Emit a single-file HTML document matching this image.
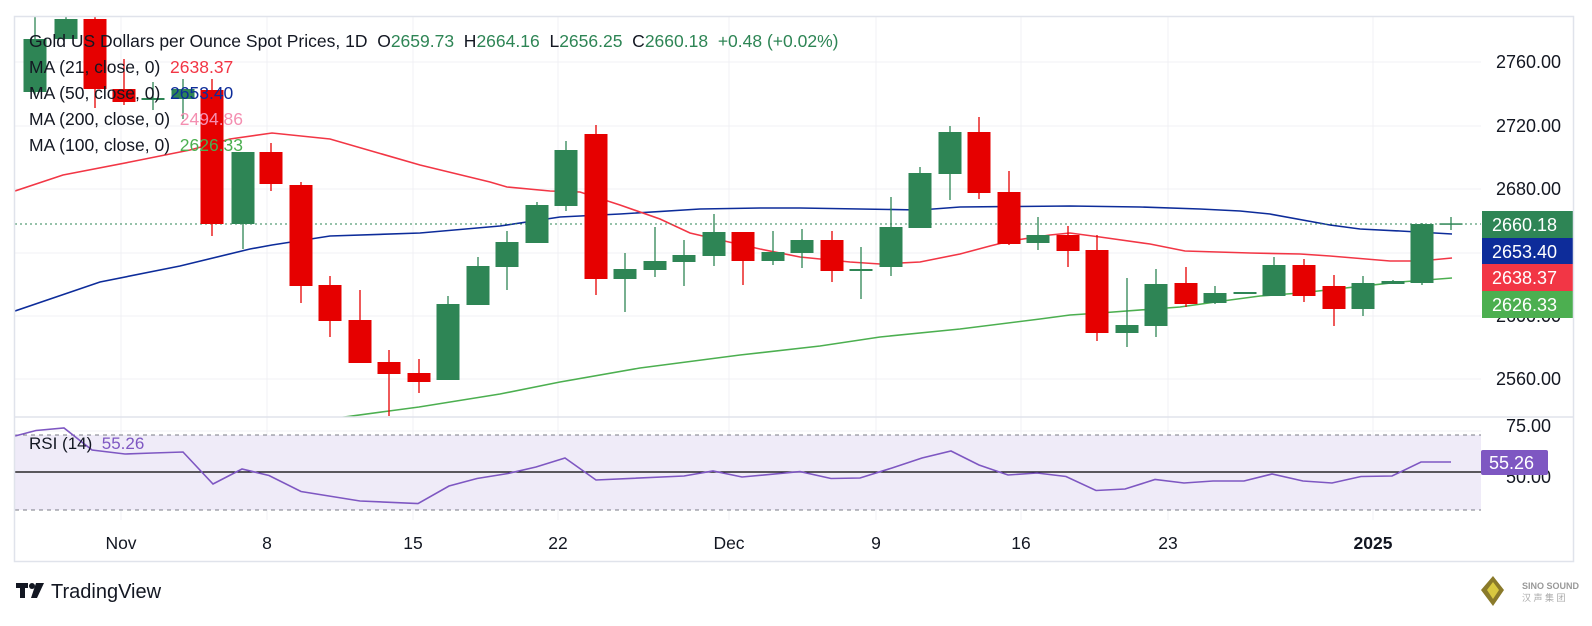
<!DOCTYPE html>
<html><head><meta charset="utf-8"><style>
html,body{margin:0;padding:0;background:#fff;width:1592px;height:626px;overflow:hidden}
svg{display:block}
text{font-family:"Liberation Sans",sans-serif;white-space:pre}
</style></head><body>
<svg width="1592" height="626" viewBox="0 0 1592 626" xmlns="http://www.w3.org/2000/svg" xml:space="preserve">
<rect width="1592" height="626" fill="#fff"/>
<defs><clipPath id="mp"><rect x="15" y="17" width="1466" height="400"/></clipPath></defs>
<g stroke="#f0f1f4" stroke-width="1">
<line x1="15" x2="1481" y1="62" y2="62"/><line x1="15" x2="1481" y1="126" y2="126"/><line x1="15" x2="1481" y1="189" y2="189"/><line x1="15" x2="1481" y1="253" y2="253"/><line x1="15" x2="1481" y1="316" y2="316"/><line x1="15" x2="1481" y1="379" y2="379"/>
<line x1="15" x2="1481" y1="431" y2="431"/>
<line x1="121" x2="121" y1="17" y2="520"/><line x1="267" x2="267" y1="17" y2="520"/><line x1="413" x2="413" y1="17" y2="520"/><line x1="558" x2="558" y1="17" y2="520"/><line x1="729" x2="729" y1="17" y2="520"/><line x1="876" x2="876" y1="17" y2="520"/><line x1="1021" x2="1021" y1="17" y2="520"/><line x1="1168" x2="1168" y1="17" y2="520"/><line x1="1373" x2="1373" y1="17" y2="520"/>
</g>
<g clip-path="url(#mp)" fill="none" stroke-width="1.6">
<polyline stroke="#4caf50" points="300,423 389,411 419,407 500,394 560,382 640,368 740,355 820,346 880,337 960,329 1040,319 1070,315 1100,313 1180,307 1230,300 1260,296 1300,293 1400,282 1452,278"/>
<polyline stroke="#0d2c9a" points="15,311 100,282 180,266 250,249 272,245 330,236 420,233 500,226 560,217 620,214 700,209 760,208 800,208 860,209 920,210 960,207 1070,206 1140,207 1200,209 1240,211 1270,214 1330,225 1360,229 1400,231 1452,234"/>
<polyline stroke="#f23645" points="15,191 63,175 130,162 190,150 230,139 272,133 330,139 420,165 490,182 507,187 550,191 580,192 620,205 660,219 690,233 720,240 760,249 800,257 850,262 880,264 920,262 960,254 990,246 1010,241 1050,235 1070,233 1100,237 1150,244 1185,251 1250,253 1300,254 1330,256 1390,261 1420,261 1452,258"/>
</g>
<line x1="15" x2="1481" y1="224" y2="224" stroke="#2e8555" stroke-width="1" stroke-dasharray="2,3"/>
<g clip-path="url(#mp)" stroke-width="1.3">
<g fill="#2e8555" stroke="#2e8555">
<line x1="35" x2="35" y1="16" y2="95"/><rect x="23.5" y="39" width="23" height="53" stroke="none"/>
<line x1="66" x2="66" y1="16" y2="39"/><rect x="54.5" y="19" width="23" height="20" stroke="none"/>
<line x1="153" x2="153" y1="82" y2="110"/><rect x="141.5" y="98" width="23" height="2" stroke="none"/>
<line x1="183" x2="183" y1="79" y2="119"/><rect x="171.5" y="89" width="23" height="10" stroke="none"/>
<line x1="243" x2="243" y1="152" y2="249"/><rect x="231.5" y="152" width="23" height="72" stroke="none"/>
<line x1="448" x2="448" y1="296" y2="380"/><rect x="436.5" y="304" width="23" height="76" stroke="none"/>
<line x1="478" x2="478" y1="257" y2="305"/><rect x="466.5" y="266" width="23" height="39" stroke="none"/>
<line x1="507" x2="507" y1="231" y2="290"/><rect x="495.5" y="242" width="23" height="25" stroke="none"/>
<line x1="537" x2="537" y1="202" y2="243"/><rect x="525.5" y="205" width="23" height="38" stroke="none"/>
<line x1="566" x2="566" y1="141" y2="211"/><rect x="554.5" y="150" width="23" height="56" stroke="none"/>
<line x1="625" x2="625" y1="253" y2="312"/><rect x="613.5" y="269" width="23" height="10" stroke="none"/>
<line x1="655" x2="655" y1="227" y2="277"/><rect x="643.5" y="261" width="23" height="9" stroke="none"/>
<line x1="684" x2="684" y1="240" y2="286"/><rect x="672.5" y="255" width="23" height="7" stroke="none"/>
<line x1="714" x2="714" y1="214" y2="266"/><rect x="702.5" y="232" width="23" height="24" stroke="none"/>
<line x1="773" x2="773" y1="231" y2="265"/><rect x="761.5" y="252" width="23" height="9" stroke="none"/>
<line x1="802" x2="802" y1="229" y2="268"/><rect x="790.5" y="240" width="23" height="13" stroke="none"/>
<line x1="861" x2="861" y1="247" y2="299"/><rect x="849.5" y="269" width="23" height="2" stroke="none"/>
<line x1="891" x2="891" y1="197" y2="276"/><rect x="879.5" y="227" width="23" height="40" stroke="none"/>
<line x1="920" x2="920" y1="167" y2="228"/><rect x="908.5" y="173" width="23" height="55" stroke="none"/>
<line x1="950" x2="950" y1="126" y2="200"/><rect x="938.5" y="132" width="23" height="42" stroke="none"/>
<line x1="1038" x2="1038" y1="217" y2="250"/><rect x="1026.5" y="235" width="23" height="8" stroke="none"/>
<line x1="1127" x2="1127" y1="278" y2="347"/><rect x="1115.5" y="325" width="23" height="8" stroke="none"/>
<line x1="1156" x2="1156" y1="269" y2="337"/><rect x="1144.5" y="284" width="23" height="42" stroke="none"/>
<line x1="1215" x2="1215" y1="286" y2="304"/><rect x="1203.5" y="293" width="23" height="10" stroke="none"/>
<rect x="1233.5" y="292" width="23" height="2" stroke="none"/>
<line x1="1274" x2="1274" y1="257" y2="296"/><rect x="1262.5" y="265" width="23" height="31" stroke="none"/>
<line x1="1363" x2="1363" y1="276" y2="316"/><rect x="1351.5" y="283" width="23" height="26" stroke="none"/>
<line x1="1393" x2="1393" y1="280" y2="284"/><rect x="1381.5" y="281" width="23" height="3" stroke="none"/>
<line x1="1422" x2="1422" y1="223" y2="285"/><rect x="1410.5" y="224" width="23" height="59" stroke="none"/>
<line x1="1451" x2="1451" y1="217" y2="230"/><rect x="1439.5" y="223.3" width="23" height="1.5" stroke="none"/>
</g>
<g fill="#e60000" stroke="#e60000">
<line x1="95" x2="95" y1="16" y2="108"/><rect x="83.5" y="19" width="23" height="70" stroke="none"/>
<line x1="124" x2="124" y1="59" y2="105"/><rect x="112.5" y="89" width="23" height="13" stroke="none"/>
<line x1="212" x2="212" y1="79" y2="236"/><rect x="200.5" y="90" width="23" height="134" stroke="none"/>
<line x1="271" x2="271" y1="143" y2="191"/><rect x="259.5" y="152" width="23" height="32" stroke="none"/>
<line x1="301" x2="301" y1="182" y2="303"/><rect x="289.5" y="185" width="23" height="101" stroke="none"/>
<line x1="330" x2="330" y1="276" y2="337"/><rect x="318.5" y="285" width="23" height="36" stroke="none"/>
<line x1="360" x2="360" y1="290" y2="363"/><rect x="348.5" y="320" width="23" height="43" stroke="none"/>
<line x1="389" x2="389" y1="350" y2="416"/><rect x="377.5" y="362" width="23" height="12" stroke="none"/>
<line x1="419" x2="419" y1="359" y2="393"/><rect x="407.5" y="373" width="23" height="9" stroke="none"/>
<line x1="596" x2="596" y1="125" y2="295"/><rect x="584.5" y="134" width="23" height="145" stroke="none"/>
<line x1="743" x2="743" y1="232" y2="285"/><rect x="731.5" y="232" width="23" height="29" stroke="none"/>
<line x1="832" x2="832" y1="231" y2="282"/><rect x="820.5" y="240" width="23" height="31" stroke="none"/>
<line x1="979" x2="979" y1="117" y2="199"/><rect x="967.5" y="132" width="23" height="61" stroke="none"/>
<line x1="1009" x2="1009" y1="171" y2="245"/><rect x="997.5" y="192" width="23" height="52" stroke="none"/>
<line x1="1068" x2="1068" y1="226" y2="267"/><rect x="1056.5" y="235" width="23" height="16" stroke="none"/>
<line x1="1097" x2="1097" y1="235" y2="341"/><rect x="1085.5" y="250" width="23" height="83" stroke="none"/>
<line x1="1186" x2="1186" y1="267" y2="307"/><rect x="1174.5" y="283" width="23" height="21" stroke="none"/>
<line x1="1304" x2="1304" y1="259" y2="302"/><rect x="1292.5" y="265" width="23" height="31" stroke="none"/>
<line x1="1334" x2="1334" y1="275" y2="326"/><rect x="1322.5" y="286" width="23" height="23" stroke="none"/>
</g>
</g>
<g font-size="17.5" fill="#131722">
<text x="29" y="47">Gold US Dollars per Ounce Spot Prices, 1D  O<tspan fill="#2e8555">2659.73</tspan>  H<tspan fill="#2e8555">2664.16</tspan>  L<tspan fill="#2e8555">2656.25</tspan>  C<tspan fill="#2e8555">2660.18</tspan>  <tspan fill="#2e8555">+0.48 (+0.02%)</tspan></text>
<text x="29" y="73">MA (21, close, 0)  <tspan fill="#f23645">2638.37</tspan></text>
<text x="29" y="99">MA (50, close, 0)  <tspan fill="#0d2c9a">2653.40</tspan></text>
<text x="29" y="125">MA (200, close, 0)  <tspan fill="#f48fb1">2494.86</tspan></text>
<text x="29" y="151">MA (100, close, 0)  <tspan fill="#4caf50">2626.33</tspan></text>
</g>
<line x1="15" x2="1574" y1="417" y2="417" stroke="#e0e3eb" stroke-width="1.5"/>
<rect x="15" y="435" width="1466" height="75" fill="#efebf8"/>
<line x1="15" x2="1481" y1="435" y2="435" stroke="#787b86" stroke-dasharray="4,4"/>
<line x1="15" x2="1481" y1="510" y2="510" stroke="#787b86" stroke-dasharray="4,4"/>
<line x1="15" x2="1481" y1="472" y2="472" stroke="#000" stroke-width="1.2"/>
<polyline fill="none" stroke="#7e57c2" stroke-width="1.6" points="15,436 36,430.5 64,428 92,450 125,454 153,453 183,452 213,484 242,469 269,475.5 301,491.5 360,501 418,503.6 449,486 477,478.5 508,473.5 536,467 565,458 596,480 684,476 713,471 742,477 800,471.6 831,478.5 860,478 892,468 922,458 951,451 979,465 1008,475 1037,473 1066,476.5 1096,490.5 1125,489 1155,479.5 1184,483 1213,481 1244,481 1272,474 1303,481 1332,483 1361,476.5 1392,476 1421,462 1451,462"/>
<text x="29" y="449" font-size="17" fill="#131722">RSI (14)  <tspan fill="#7e57c2">55.26</tspan></text>
<g font-size="18" fill="#131722">
<text x="1496" y="68">2760.00</text><text x="1496" y="132">2720.00</text><text x="1496" y="195">2680.00</text><text x="1496" y="322">2600.00</text><text x="1496" y="385">2560.00</text>
<text x="1506" y="432">75.00</text><text x="1506" y="483">50.00</text>
</g>
<rect x="1482" y="211" width="92" height="27" fill="#2e8555"/>
<rect x="1482" y="238" width="92" height="26" fill="#0d2c9a"/>
<rect x="1482" y="264" width="92" height="27" fill="#f23645"/>
<rect x="1482" y="291" width="92" height="27" fill="#4caf50"/>
<g font-size="18" fill="#fff">
<text x="1492" y="231">2660.18</text><text x="1492" y="258">2653.40</text><text x="1492" y="284">2638.37</text><text x="1492" y="311">2626.33</text>
</g>
<rect x="1481" y="450" width="67" height="25" rx="2" fill="#7e57c2"/>
<text x="1489" y="469" font-size="18" fill="#fff">55.26</text>
<g font-size="17.5" fill="#131722" text-anchor="middle">
<text x="121" y="549">Nov</text><text x="267" y="549">8</text><text x="413" y="549">15</text><text x="558" y="549">22</text><text x="729" y="549">Dec</text><text x="876" y="549">9</text><text x="1021" y="549">16</text><text x="1168" y="549">23</text><text x="1373" y="549" font-weight="bold">2025</text>
</g>
<rect x="14.5" y="16.5" width="1559" height="545" fill="none" stroke="#e0e3eb" stroke-width="1.5"/>
<g fill="#131722">
<rect x="16" y="583" width="12" height="5"/><rect x="20" y="583" width="5" height="15"/>
<circle cx="32" cy="586" r="3"/><polygon points="36,583 44,583 37,598 31,598"/>
</g>
<text x="51" y="598" font-size="20" fill="#131722">TradingView</text>
<polygon points="1493,576 1504,590 1493,606 1481,590" fill="#8a7a2a"/>
<polygon points="1493,582 1499,590 1493,599 1487,590" fill="#d8c840"/>
<text x="1522" y="589" font-size="9" font-weight="bold" fill="#999">SINO SOUND</text>
<text x="1522" y="601" font-size="9" fill="#aaa" font-family="Liberation Sans, Noto Sans CJK SC, sans-serif">汉 声 集 团</text>
</svg>
</body></html>
